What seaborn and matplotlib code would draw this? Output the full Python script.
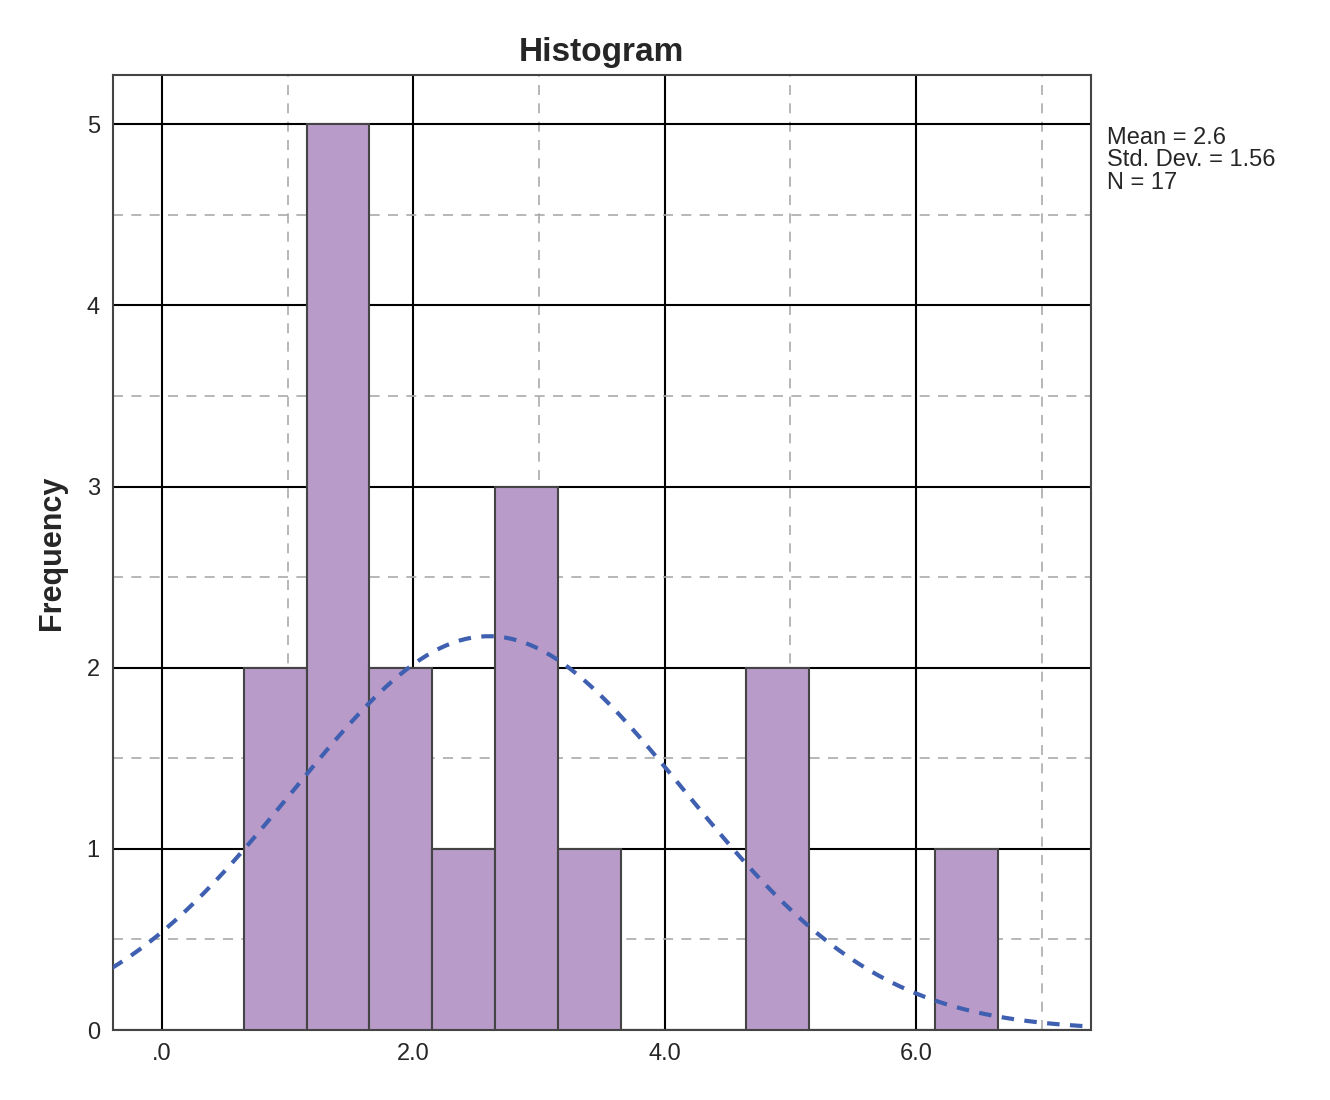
import numpy as np
import pandas as pd
import matplotlib.pyplot as plt
import seaborn as sns

# bin midpoints and frequencies (bin width 0.5)
bin_mids = [0.9, 1.4, 1.9, 2.4, 2.9, 3.4, 4.9, 6.4]
counts = [2, 5, 2, 1, 3, 1, 2, 1]
mean, sd, n = 2.6, 1.56, 17
bin_width = 0.5

df = pd.DataFrame({'value': bin_mids, 'count': counts})

sns.set_style('white')
plt.rcParams['font.family'] = ['Liberation Sans', 'DejaVu Sans']

fig = plt.figure(figsize=(13.3, 11), dpi=100)
ax = fig.add_axes([0.085, 0.0636, 0.735, 0.868])

sns.histplot(data=df, x='value', weights='count', binwidth=bin_width,
             binrange=(0.65, 6.65), ax=ax, color='#B99BC9', alpha=1,
             edgecolor='#444444', linewidth=1.5, zorder=3)

# normal curve from the summary statistics
xs = np.linspace(-0.4, 7.4, 300)
ys = n * bin_width * np.exp(-0.5 * ((xs - mean) / sd) ** 2) / (sd * np.sqrt(2 * np.pi))
sns.lineplot(x=xs, y=ys, ax=ax, color='#3F5FB0', linestyle=(0, (3, 2.5)), linewidth=3, zorder=4)

ax.set_xlim(-0.39, 7.39)
ax.set_ylim(0, 5.27)
ax.set_xticks([0, 2, 4, 6])
ax.set_xticklabels(['.0', '2.0', '4.0', '6.0'])
ax.set_yticks([0, 1, 2, 3, 4, 5])
ax.set_xticks([1, 3, 5, 7], minor=True)
ax.set_yticks([0.5, 1.5, 2.5, 3.5, 4.5], minor=True)
ax.grid(which='major', color='black', linewidth=1.5, zorder=1)
ax.grid(which='minor', color='#AAAAAA', linestyle=(0, (6, 5)), linewidth=1.2, zorder=1)
ax.set_axisbelow(True)
ax.tick_params(axis='both', which='major', labelsize=17, length=6, color='black', direction='out')
ax.tick_params(which='minor', length=0)
ax.tick_params(axis='x', bottom=False)
for s in ax.spines.values():
    s.set_color('#444444')
    s.set_linewidth(1.5)

ax.set_xlabel('')
ax.set_ylabel('Frequency', fontsize=22, fontweight='bold', labelpad=14)
ax.set_title('Histogram', fontsize=24, fontweight='bold', pad=10)

fig.text(0.832, 0.885, 'Mean = 2.6\nStd. Dev. = 1.56\nN = 17', fontsize=17,
         va='top', ha='left', linespacing=1.05)

fig.savefig('out.png', dpi=100, facecolor='white')
plt.close(fig)
